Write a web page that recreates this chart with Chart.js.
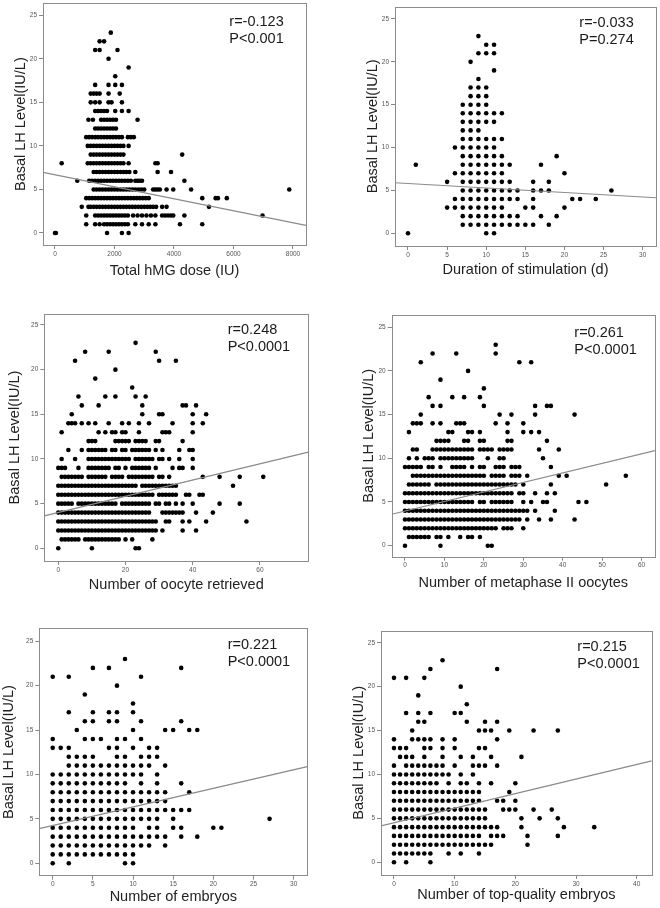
<!DOCTYPE html>
<html>
<head>
<meta charset="utf-8">
<title>Basal LH level correlations</title>
<script src="https://cdn.jsdelivr.net/npm/chart.js@4.4.0/dist/chart.umd.min.js"></script>
<style>
  html, body { margin: 0; padding: 0; background: #fff; }
  body { position: relative; width: 660px; height: 908px; overflow: hidden; }
  canvas { position: absolute; }
</style>
</head>
<body>
<script>
// every table below is indexed by basal LH level (IU/L): row i lists the x values seen at LH = i
const yTicks = [0, 5, 10, 15, 20, 25];
const yTitle = "Basal LH Level(IU/L)";

const hmgDose = [
  [0, 30, 1750, 2250, 2475],
  [1050, 1350, 1500, 1650, 1750, 1850, 1950, 2050, 2150, 2250, 2350, 2450, 2700, 2925, 3150, 3375, 4200, 4950],
  [1050, 1350, 1450, 1550, 1650, 1750, 1850, 1950, 2050, 2150, 2250, 2350, 2450, 2625, 2775, 2925, 3075, 3225, 3375, 3600, 3700, 3800, 3900, 3975, 4350, 6975],
  [900, 1125, 1200, 1300, 1400, 1500, 1600, 1700, 1800, 1900, 2000, 2100, 2200, 2300, 2400, 2500, 2600, 2700, 2800, 2900, 3000, 3100, 3200, 3300, 3400, 3600, 3750, 5175],
  [1050, 1150, 1250, 1350, 1450, 1550, 1650, 1750, 1850, 1950, 2050, 2150, 2250, 2350, 2450, 2550, 2650, 2750, 2850, 2950, 3050, 3150, 4950, 5400, 5475, 5775],
  [1300, 1400, 1500, 1600, 1700, 1800, 1900, 2000, 2100, 2200, 2300, 2400, 2500, 2600, 2700, 2800, 2900, 3000, 3300, 3375, 3450, 3525, 3750, 3975, 4575, 7875],
  [750, 1150, 1250, 1350, 1450, 1550, 1650, 1750, 1850, 1950, 2050, 2150, 2250, 2350, 2450, 2550, 2700, 2775, 2850, 2925, 4350],
  [1300, 1400, 1500, 1600, 1700, 1800, 1900, 2000, 2100, 2200, 2300, 2400, 2500, 2700, 3450, 3900],
  [225, 1100, 1200, 1300, 1400, 1500, 1600, 1700, 1800, 1900, 2000, 2100, 2200, 2300, 2475, 3375, 3450],
  [1200, 1300, 1400, 1500, 1600, 1700, 1800, 1900, 2000, 2100, 2200, 2300, 4275],
  [1100, 1200, 1300, 1400, 1500, 1600, 1700, 1800, 1900, 2000, 2100, 2200, 2300, 2475],
  [1050, 1150, 1250, 1350, 1450, 1550, 1650, 1750, 1850, 1950, 2050, 2150, 2250, 2450, 2550, 2650],
  [1350, 1450, 1550, 1650, 1750, 1850, 1950, 2050],
  [1125, 1275, 1550, 1650, 1750, 1850, 1950, 2050, 2775],
  [1350, 1450, 1550, 1650, 1750, 2025, 2250, 2475],
  [1200, 1350, 1500, 1800, 1900, 2250],
  [1200, 1300, 1400, 1500, 1800, 2175],
  [1350, 1800, 2025, 2250],
  [2025],
  [2475],
  [1800],
  [1350, 1500, 2100],
  [1500, 1650],
  [1875]
];

const stimDays = [
  [0, 10, 11],
  [7, 8, 9, 10, 11, 12, 13, 14, 15, 16, 18],
  [7, 8, 9, 10, 11, 12, 13, 14, 17, 19],
  [5, 6, 7, 8, 9, 10, 11, 12, 15, 16, 20],
  [6, 7, 8, 9, 10, 11, 12, 13, 14, 16, 21, 22, 24],
  [7, 8, 9, 10, 11, 12, 13, 14, 16, 17, 18, 26],
  [5, 7, 8, 9, 10, 11, 12, 13, 16, 18],
  [6, 7, 8, 9, 10, 11, 12, 20],
  [1, 7, 8, 9, 10, 11, 12, 13, 17],
  [7, 8, 9, 10, 11, 12, 19],
  [6, 7, 8, 9, 10, 11],
  [7, 8, 9, 10, 11, 12],
  [7, 8, 9],
  [7, 8, 9, 10, 11],
  [7, 8, 9, 10, 11, 12],
  [7, 8, 9, 10],
  [8, 9, 10],
  [8, 9, 10],
  [9],
  [11],
  [8],
  [9, 10, 11],
  [10, 11],
  [9]
];

const oocytes = [
  [0, 10, 23, 24],
  [1, 2, 3, 4, 5, 6, 8, 9, 10, 11, 12, 13, 14, 15, 16, 17, 18, 20, 22, 28],
  [0, 1, 2, 3, 4, 5, 6, 7, 8, 9, 10, 11, 12, 13, 14, 15, 16, 17, 18, 19, 20, 21, 22, 23, 24, 25, 26, 27, 28, 29, 31, 37, 41],
  [0, 1, 2, 3, 4, 5, 6, 7, 8, 9, 10, 11, 12, 13, 14, 15, 16, 17, 18, 19, 20, 21, 22, 23, 24, 25, 26, 27, 28, 29, 32, 33, 37, 39, 44, 56],
  [0, 1, 2, 3, 4, 5, 6, 7, 8, 9, 10, 11, 12, 13, 14, 15, 16, 17, 18, 19, 20, 21, 22, 23, 24, 25, 26, 27, 31, 32, 33, 34, 35, 36, 37, 41, 46],
  [0, 1, 2, 3, 4, 6, 7, 8, 9, 10, 11, 12, 13, 14, 15, 16, 17, 19, 20, 21, 22, 23, 24, 25, 26, 27, 29, 30, 32, 33, 35, 37, 40, 48, 54],
  [0, 1, 2, 3, 4, 5, 6, 7, 8, 9, 10, 11, 12, 13, 14, 15, 16, 17, 18, 19, 20, 21, 22, 23, 24, 25, 26, 27, 28, 30, 31, 32, 33, 34, 35, 38, 39, 42, 43],
  [0, 1, 2, 3, 4, 5, 6, 7, 8, 9, 10, 11, 12, 13, 14, 15, 16, 17, 18, 19, 20, 21, 22, 23, 25, 26, 27, 28, 29, 30, 31, 32, 33, 34, 35, 52],
  [1, 2, 3, 4, 5, 6, 7, 9, 10, 11, 12, 13, 14, 16, 17, 18, 19, 21, 22, 23, 24, 25, 26, 27, 28, 30, 31, 33, 43, 48, 54, 61],
  [0, 1, 2, 6, 9, 10, 11, 12, 13, 14, 15, 17, 18, 20, 22, 23, 24, 25, 26, 27, 29, 34, 36, 37, 40],
  [1, 5, 9, 10, 11, 12, 13, 14, 15, 16, 17, 18, 19, 20, 21, 23, 24, 25, 26, 27, 28, 30, 31, 33, 36, 40],
  [3, 7, 9, 10, 11, 12, 13, 14, 16, 17, 19, 20, 22, 23, 24, 25, 26, 27, 29, 31, 36, 39, 40],
  [9, 10, 11, 17, 18, 19, 20, 21, 23, 24, 25, 26, 29, 30, 37],
  [1, 12, 14, 16, 17, 19, 20, 24, 31, 32, 33, 40],
  [3, 4, 5, 7, 9, 11, 15, 19, 21, 24, 27, 34, 40, 43],
  [4, 25, 30, 31, 40, 44],
  [7, 12, 25, 37, 38, 41],
  [6, 14, 17, 23, 26],
  [22],
  [11],
  [17],
  [5, 30, 35],
  [8, 15, 29],
  [23]
];

const miiOocytes = [
  [0, 9, 21, 22],
  [1, 2, 3, 4, 5, 6, 8, 9, 11, 14, 16, 17, 19],
  [0, 1, 2, 3, 4, 5, 6, 7, 8, 9, 10, 11, 12, 13, 14, 15, 16, 17, 18, 19, 20, 21, 22, 23, 25, 26, 27, 30],
  [0, 1, 2, 3, 4, 5, 6, 7, 8, 9, 10, 11, 12, 13, 14, 15, 16, 17, 18, 19, 20, 21, 22, 23, 24, 25, 26, 27, 28, 29, 31, 34, 37, 43],
  [0, 1, 2, 3, 4, 5, 6, 7, 8, 9, 10, 11, 12, 13, 14, 15, 16, 17, 18, 19, 20, 21, 22, 23, 24, 25, 26, 27, 28, 29, 30, 31, 33, 38],
  [0, 1, 2, 3, 4, 5, 6, 7, 8, 9, 10, 11, 12, 13, 14, 15, 16, 17, 19, 20, 22, 23, 24, 25, 26, 27, 30, 32, 35, 36, 44, 46],
  [0, 1, 2, 3, 4, 5, 6, 7, 8, 9, 10, 11, 12, 13, 14, 15, 16, 17, 18, 19, 20, 21, 22, 23, 24, 25, 26, 27, 29, 30, 33, 36, 38],
  [1, 2, 3, 4, 5, 6, 8, 9, 10, 11, 12, 13, 14, 15, 16, 17, 18, 19, 20, 21, 22, 23, 24, 25, 26, 27, 28, 30, 37, 51],
  [2, 3, 4, 5, 6, 7, 8, 9, 10, 11, 12, 13, 14, 15, 16, 17, 18, 19, 20, 22, 23, 24, 25, 27, 28, 29, 31, 39, 41, 56],
  [0, 1, 2, 3, 4, 6, 7, 9, 12, 13, 14, 15, 17, 19, 20, 23, 24, 25, 27, 28, 29, 37],
  [1, 3, 5, 6, 7, 9, 10, 11, 12, 13, 14, 15, 16, 17, 21, 24, 25, 35],
  [2, 3, 7, 8, 9, 10, 11, 12, 13, 14, 15, 16, 17, 19, 20, 21, 22, 24, 25, 26, 27, 34, 39],
  [8, 9, 10, 11, 15, 16, 19, 20, 26, 27, 36],
  [1, 11, 12, 16, 17, 19, 26, 30, 32, 34],
  [2, 3, 4, 7, 9, 13, 14, 15, 23, 26, 30],
  [4, 24, 27, 33, 43],
  [7, 9, 20, 33, 36, 37],
  [6, 12, 15, 19],
  [20],
  [9],
  [16],
  [4, 29, 32],
  [7, 13, 23],
  [23]
];

const embryos = [
  [0, 2, 9, 10],
  [0, 1, 2, 3, 4, 5, 6, 7, 8, 9, 10],
  [0, 1, 2, 3, 4, 5, 6, 7, 8, 9, 10, 11, 12, 14],
  [0, 1, 2, 3, 4, 5, 6, 7, 8, 9, 10, 11, 12, 13, 14, 16, 18],
  [0, 1, 2, 3, 4, 5, 6, 7, 8, 9, 10, 12, 13, 15, 16, 20, 21],
  [0, 1, 2, 3, 4, 5, 6, 7, 8, 9, 10, 11, 12, 13, 15, 27],
  [0, 1, 2, 3, 4, 5, 6, 7, 8, 9, 10, 11, 12, 13, 14, 15, 16, 17],
  [0, 1, 2, 3, 4, 5, 6, 7, 8, 9, 10, 11, 12, 13, 14],
  [0, 1, 2, 3, 4, 5, 6, 7, 8, 9, 10, 11, 12, 13, 14, 17],
  [0, 1, 2, 3, 4, 5, 6, 7, 8, 9, 11, 13, 16],
  [0, 1, 2, 3, 4, 5, 6, 7, 8, 9, 10, 11, 13],
  [2, 3, 4, 5, 6, 7, 8, 9, 10, 11, 12, 14],
  [2, 3, 4, 5, 8, 9, 11, 12, 13],
  [0, 1, 2, 7, 8, 10, 12, 13],
  [0, 4, 5, 6, 8, 9, 11],
  [3, 10, 14, 15, 17, 18],
  [4, 5, 7, 8, 11, 16],
  [2, 5, 7, 8, 10],
  [10],
  [4],
  [8],
  [0, 2, 11],
  [5, 7, 16],
  [9]
];

const topEmbryos = [
  [0, 2, 6],
  [0, 1, 2, 3, 4, 5, 6, 9, 11, 14],
  [0, 1, 2, 3, 4, 5, 6, 7, 8, 9, 10, 11, 12, 13, 14, 15, 16, 22],
  [0, 1, 2, 3, 4, 5, 6, 7, 8, 9, 10, 11, 12, 13, 14, 16, 17, 18, 22, 27],
  [0, 1, 2, 3, 4, 5, 6, 7, 8, 9, 10, 11, 12, 13, 14, 15, 16, 17, 21, 28, 33],
  [0, 1, 2, 3, 4, 5, 6, 7, 8, 9, 10, 11, 12, 13, 14, 15, 21, 24, 27],
  [0, 1, 2, 3, 4, 5, 6, 7, 8, 9, 10, 11, 12, 13, 14, 15, 18, 19, 20, 23, 26],
  [0, 1, 2, 3, 4, 5, 6, 7, 8, 9, 10, 11, 12, 13, 14, 17, 18, 20],
  [0, 1, 2, 3, 4, 5, 6, 7, 8, 9, 10, 11, 12, 13, 14, 19],
  [0, 1, 2, 3, 4, 5, 6, 7, 9, 11, 12, 14, 16, 20],
  [0, 1, 2, 3, 4, 5, 6, 7, 8, 9, 11, 13],
  [0, 2, 3, 4, 5, 6, 7, 8, 10, 13, 14, 15, 17],
  [1, 2, 3, 5, 8, 11, 13, 16, 21],
  [0, 1, 2, 5, 6, 8, 10, 14, 15],
  [0, 3, 4, 5, 6, 8, 10, 17],
  [3, 14, 15, 16, 19, 23, 27],
  [4, 5, 12, 15, 17],
  [2, 4, 6, 10, 11],
  [12],
  [4],
  [11],
  [0, 2, 5],
  [6, 17],
  [8]
];

const xTitles = ["Total hMG dose (IU)", "Duration of stimulation (d)", "Number of oocyte retrieved",
  "Number of metaphase II oocytes", "Number of embryos", "Number of top-quality embryos"];
const xTicks = [
  [0, 2000, 4000, 6000, 8000],
  [0, 5, 10, 15, 20, 25, 30],
  [0, 20, 40, 60],
  [0, 10, 20, 30, 40, 50, 60],
  [0, 5, 10, 15, 20, 25, 30],
  [0, 10, 20, 30, 40]
];
const xRange = [[-403, 8437], [-1.66, 31.7], [-4.16, 74.4], [-3.37, 63.4], [-1.67, 31.7], [-2.14, 42.47]];
const yRange = [[-1.38, 26.37], [-1.48, 26.43], [-1.42, 26.23], [-1.26, 26.4], [-1.4, 26.46], [-1.45, 26.37]];
const rText = ["r=-0.123", "r=-0.033", "r=0.248", "r=0.261", "r=0.221", "r=0.215"];
const pText = ["P<0.001", "P=0.274", "P<0.0001", "P<0.0001", "P<0.0001", "P<0.0001"];
const fitIntercept = [6.69, 5.81, 4.01, 3.97, 4.25, 4.49];
const fitSlope = [-0.000689, -0.0525, 0.0909, 0.109, 0.209, 0.166];

const panels = [hmgDose, stimDays, oocytes, miiOocytes, embryos, topEmbryos];

// where each plot frame sits on the page, plus title centres and r/P text anchor
const frames = [
  { L: 43, T: 3.3, R: 306, B: 245, yt: 20.5, xt: 271, tx: 229.3, ty: 26 },
  { L: 395, T: 6.7, R: 656, B: 246, yt: 372.7, xt: 270, tx: 579.3, ty: 26.7 },
  { L: 44.3, T: 314, R: 308.3, B: 561, yt: 15.3, xt: 585, tx: 227.7, ty: 334.3 },
  { L: 391.7, T: 315, R: 655, B: 556.7, yt: 369.3, xt: 583.3, tx: 574.3, ty: 337.3 },
  { L: 39.3, T: 628.3, R: 307.3, B: 875.7, yt: 8.7, xt: 896.7, tx: 227.7, ty: 649.3 },
  { L: 381, T: 630.7, R: 651.7, B: 875, yt: 359, xt: 895, tx: 577.3, ty: 650.7 }
];

const family = '"Liberation Sans", Arial, Helvetica, sans-serif';
const titleSize = 14.5;
Chart.defaults.font.family = family;

function rowsToPoints(rows) {
  const pts = [];
  rows.forEach((xs, lh) => xs.forEach(x => pts.push({ x: x, y: lh })));
  return pts;
}

const frameBox = {
  id: 'frameBox',
  afterDatasetsDraw(chart) {
    const a = chart.chartArea, ctx = chart.ctx;
    ctx.save();
    ctx.strokeStyle = '#8c8c8c';
    ctx.lineWidth = 1;
    ctx.strokeRect(Math.round(a.left) + 0.5, Math.round(a.top) + 0.5,
      Math.round(a.right - a.left), Math.round(a.bottom - a.top));
    ctx.restore();
  }
};

const cornerText = {
  id: 'cornerText',
  afterDraw(chart, args, opts) {
    const ctx = chart.ctx;
    ctx.save();
    ctx.font = titleSize + 'px ' + family;
    ctx.fillStyle = '#1a1a1a';
    ctx.textAlign = 'left';
    ctx.textBaseline = 'alphabetic';
    ctx.fillText(opts.r, opts.x, opts.y);
    ctx.fillText(opts.p, opts.x, opts.y + 16.8);
    ctx.restore();
  }
};

frames.forEach((f, i) => {
  const cellX = i % 2 ? 330 : 0;
  const left = cellX - 10;
  const top = Math.floor(f.T) - 12;
  const width = Math.ceil(f.R) + 12 - left;
  const height = Math.ceil(f.B) + 45 - top;

  const cv = document.createElement('canvas');
  cv.width = width;
  cv.height = height;
  cv.style.left = left + 'px';
  cv.style.top = top + 'px';
  cv.style.width = width + 'px';
  cv.style.height = height + 'px';
  document.body.appendChild(cv);

  const titleHalf = titleSize * 1.2 / 2 + 4;
  const padLeft = f.yt - left - titleHalf;
  const yW = f.L - left - padLeft;
  const xH = f.xt - f.B + titleHalf;
  const padTop = f.T - top;
  const padRight = width - (f.R - left);
  const padBottom = height - (f.B - top) - xH;

  const x0 = xRange[i][0], x1 = xRange[i][1];
  const fit = [
    { x: x0, y: fitIntercept[i] + fitSlope[i] * x0 },
    { x: x1, y: fitIntercept[i] + fitSlope[i] * x1 }
  ];

  new Chart(cv, {
    type: 'scatter',
    data: {
      datasets: [{
        type: 'scatter',
        data: rowsToPoints(panels[i]),
        pointRadius: 2.3,
        pointBackgroundColor: '#000',
        pointBorderWidth: 0,
        order: 1
      }, {
        type: 'line',
        data: fit,
        borderColor: '#8a8a8a',
        borderWidth: 1.2,
        pointRadius: 0,
        fill: false,
        order: 0
      }]
    },
    options: {
      responsive: false,
      animation: false,
      devicePixelRatio: 1,
      events: [],
      layout: {
        autoPadding: false,
        padding: { left: padLeft, right: padRight, top: padTop, bottom: padBottom }
      },
      plugins: {
        legend: { display: false },
        tooltip: { enabled: false },
        cornerText: { r: rText[i], p: pText[i], x: f.tx - left, y: f.ty - top }
      },
      scales: {
        x: {
          type: 'linear',
          min: x0,
          max: x1,
          afterBuildTicks: s => { s.ticks = xTicks[i].map(v => ({ value: v })); },
          afterFit: s => { s.height = xH; },
          grid: { drawOnChartArea: false, drawTicks: true, tickLength: 4, color: '#888' },
          border: { display: false },
          ticks: { font: { size: 6.5 }, color: '#555', padding: 1, maxRotation: 0, autoSkip: false, callback: v => String(v) },
          title: { display: true, text: xTitles[i], font: { size: titleSize }, color: '#222', padding: { top: 4, bottom: 4 } }
        },
        y: {
          type: 'linear',
          min: yRange[i][0],
          max: yRange[i][1],
          afterBuildTicks: s => { s.ticks = yTicks.map(v => ({ value: v })); },
          afterFit: s => { s.width = yW; },
          grid: { drawOnChartArea: false, drawTicks: true, tickLength: 4, color: '#888' },
          border: { display: false },
          ticks: { font: { size: 6.5 }, color: '#555', padding: 2, autoSkip: false, callback: v => String(v) },
          title: { display: true, text: yTitle, font: { size: titleSize }, color: '#222', padding: { top: 4, bottom: 4 } }
        }
      }
    },
    plugins: [frameBox, cornerText]
  });
});
</script>
</body>
</html>
